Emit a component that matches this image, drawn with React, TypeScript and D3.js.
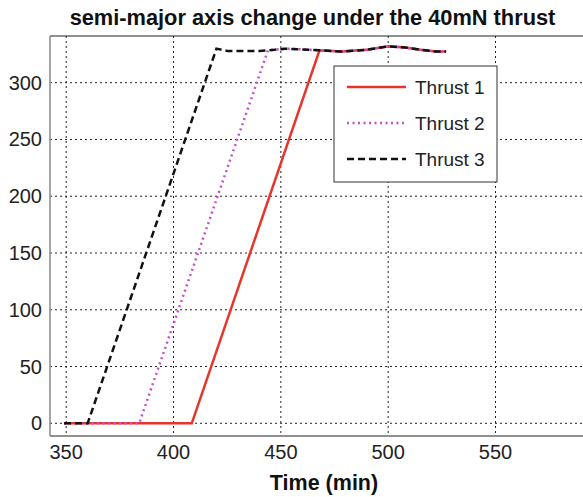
import React from "react";
import * as d3 from "d3";

const xTicks = [350, 400, 450, 500, 550];
const yTicks = [0, 50, 100, 150, 200, 250, 300];
const seriesNames = ["Thrust 1", "Thrust 2", "Thrust 3"];

const thrust1Time = [349, 408.5, 468, 478, 490, 500, 508, 515, 522, 527];
const thrust1Value = [0, 0, 328.5, 327.5, 329, 332, 331, 329, 327.5, 327.5];

const thrust2Time = [349, 384, 444, 452, 458, 468, 478, 490, 500, 508, 515, 522, 527];
const thrust2Value = [0, 0, 328.5, 330, 329.5, 328.5, 327.5, 329, 332, 331, 329, 327.5, 327.5];

const thrust3Time = [349, 360, 420, 425, 440, 447, 452, 458, 468, 478, 490, 500, 508, 515, 522, 527];
const thrust3Value = [0, 0, 330, 328, 328, 329, 330, 329.5, 328.5, 327.5, 329, 332, 331, 329, 327.5, 327.5];

const W = 583;
const H = 497;
const left = 50;
const top = 36;
const bottom = 436;

export default function App() {
  const x = d3.scaleLinear().domain([350, 550]).range([66.2, 495.5]);
  const xMax = 600;
  const y = d3.scaleLinear().domain([0, 300]).range([423.3, 82.7]);
  const right = x(xMax);

  const line = d3
    .line<[number, number]>()
    .x((d) => x(d[0]))
    .y((d) => y(d[1]));

  const mk = (t: number[], v: number[]) => t.map((tt, i) => [tt, v[i]] as [number, number]);
  const series = [
    { name: seriesNames[0], data: mk(thrust1Time, thrust1Value), color: "#e8352b", dash: "none" },
    { name: seriesNames[1], data: mk(thrust2Time, thrust2Value), color: "#c94fc9", dash: "2,3.5" },
    { name: seriesNames[2], data: mk(thrust3Time, thrust3Value), color: "#111", dash: "7,4" },
  ];
  const drawOrder = [0, 1, 2];

  const font = "Liberation Sans, Arial, Helvetica, sans-serif";
  const legX = 334;
  const legY = 66;

  return (
    <svg width={W} height={H} style={{ position: "absolute", left: 0, top: 0 }} fontFamily={font}>
      <rect x={0} y={0} width={W} height={H} fill="#fff" />
      <text x={312.5} y={25} textAnchor="middle" fontSize={21.8} fontWeight="bold" fill="#111">
        semi-major axis change under the 40mN thrust
      </text>
      {/* grid */}
      {xTicks.map((t) => (
        <line key={"gx" + t} x1={x(t)} x2={x(t)} y1={top} y2={bottom} stroke="#222" strokeWidth={1} strokeDasharray="2,3" />
      ))}
      {yTicks.map((t) => (
        <line key={"gy" + t} x1={left} x2={right} y1={y(t)} y2={y(t)} stroke="#222" strokeWidth={1} strokeDasharray="2,3" />
      ))}
      {/* frame */}
      <line x1={left} x2={right} y1={top} y2={top} stroke="#222" strokeWidth={1.2} />
      <line x1={left} x2={right} y1={bottom} y2={bottom} stroke="#222" strokeWidth={1.2} />
      <line x1={left} x2={left} y1={top} y2={bottom} stroke="#888" strokeWidth={1.5} />
      {/* tick labels */}
      {xTicks.map((t) => (
        <text key={"tx" + t} x={x(t)} y={458.5} textAnchor="middle" fontSize={20} fill="#222">
          {t}
        </text>
      ))}
      {yTicks.map((t) => (
        <text key={"ty" + t} x={42} y={y(t) + 7} textAnchor="end" fontSize={20} fill="#222">
          {t}
        </text>
      ))}
      <text x={324} y={490} textAnchor="middle" fontSize={21.5} fontWeight="bold" fill="#111">
        Time (min)
      </text>
      {/* series */}
      {drawOrder.map((i) => {
        const s = series[i];
        return (
          <path
            key={s.name}
            d={line(s.data) || ""}
            fill="none"
            stroke={s.color}
            strokeWidth={2.5}
            strokeDasharray={s.dash}
          />
        );
      })}
      {/* legend */}
      <rect x={legX} y={legY} width={163} height={116} fill="#fff" stroke="#333" strokeWidth={1} />
      {series.map((s, i) => (
        <g key={"leg" + i}>
          <line x1={347} x2={406} y1={87 + i * 36} y2={87 + i * 36} stroke={s.color} strokeWidth={2.5} strokeDasharray={s.dash} />
          <text x={415} y={87 + i * 36 + 7} fontSize={19} fill="#222">
            {s.name}
          </text>
        </g>
      ))}
    </svg>
  );
}
